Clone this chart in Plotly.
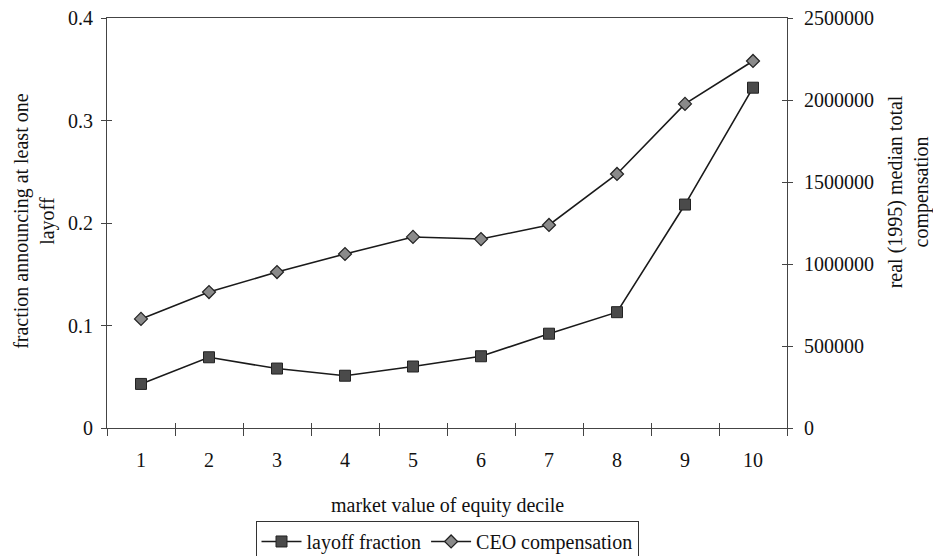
import plotly.graph_objects as go

deciles = [1, 2, 3, 4, 5, 6, 7, 8, 9, 10]
layoff_fraction = [0.043, 0.069, 0.058, 0.051, 0.060, 0.070, 0.092, 0.113, 0.218, 0.332]
ceo_compensation = [665000, 829000, 951000, 1061000, 1165000, 1152000, 1238000, 1549000, 1976000, 2238000]
boundaries = [0.5, 1.5, 2.5, 3.5, 4.5, 5.5, 6.5, 7.5, 8.5, 9.5, 10.5]
left_ticks = [0, 0.1, 0.2, 0.3, 0.4]
left_tick_labels = ["0", "0.1", "0.2", "0.3", "0.4"]
right_ticks = [0, 500000, 1000000, 1500000, 2000000, 2500000]

FONT = "Liberation Serif"
AX = "#444444"

fig = go.Figure()
fig.add_trace(go.Scatter(
    x=deciles, y=layoff_fraction, name="layoff fraction", mode="lines+markers",
    line=dict(color="#1a1a1a", width=1.6),
    marker=dict(symbol="square", size=11, color="#4a4a4a", line=dict(color="#222222", width=1)),
    xaxis="x", yaxis="y"))
fig.add_trace(go.Scatter(
    x=deciles, y=ceo_compensation, name="CEO compensation", mode="lines+markers",
    line=dict(color="#1a1a1a", width=1.6),
    marker=dict(symbol="diamond", size=10, color="#8a8a8a", line=dict(color="#222222", width=1.2)),
    xaxis="x", yaxis="y2"))
# invisible helpers so overlay tick axes are drawn
fig.add_trace(go.Scatter(x=[1], y=[0], mode="markers", marker=dict(opacity=0), showlegend=False,
                         hoverinfo="skip", xaxis="x2", yaxis="y3"))
fig.add_trace(go.Scatter(x=[1], y=[0], mode="markers", marker=dict(opacity=0), showlegend=False,
                         hoverinfo="skip", xaxis="x3", yaxis="y"))
fig.add_trace(go.Scatter(x=[1], y=[0], mode="markers", marker=dict(opacity=0), showlegend=False,
                         hoverinfo="skip", xaxis="x", yaxis="y4"))

common_x = dict(range=[0.5, 10.5], showgrid=False, zeroline=False, automargin=False)
common_y = dict(range=[0, 0.4], showgrid=False, zeroline=False, automargin=False)

fig.update_layout(
    width=933, height=556,
    paper_bgcolor="white", plot_bgcolor="white",
    margin=dict(l=107, r=146, t=18, b=128, autoexpand=False),
    font=dict(family=FONT, size=20, color="#111111"),
    showlegend=True,
    legend=dict(orientation="h", x=0.5, xanchor="center", yref="container", y=0.063, yanchor="top",
                bordercolor="#333333", borderwidth=1, font=dict(size=20, family=FONT),
                itemwidth=40, tracegroupgap=0),
    xaxis=dict(**common_x, tickmode="array", tickvals=deciles, ticktext=[str(d) for d in deciles],
               ticks="", showline=True, linecolor=AX, linewidth=1, mirror=True,
               ticklabelstandoff=14, anchor="y"),
    xaxis2=dict(**common_x, overlaying="x", anchor="y", tickmode="array", tickvals=boundaries,
                ticks="outside", ticklen=7, tickcolor=AX, showticklabels=False, showline=False),
    xaxis3=dict(**common_x, overlaying="x", anchor="y", tickmode="array", tickvals=boundaries,
                ticks="inside", ticklen=5, tickcolor=AX, showticklabels=False, showline=False),
    yaxis=dict(**common_y, tickmode="array", tickvals=left_ticks, ticktext=left_tick_labels,
               ticks="outside", ticklen=5, tickcolor=AX, showline=True, linecolor=AX, linewidth=1,
               ticklabelstandoff=4, anchor="x"),
    yaxis2=dict(range=[0, 2500000], tickmode="array", tickvals=right_ticks, tickformat="d",
                showgrid=False, zeroline=False, automargin=False, overlaying="y", side="right",
                anchor="x", ticks="outside", ticklen=5, tickcolor=AX, showline=True, linecolor=AX,
                linewidth=1, ticklabelstandoff=7),
    yaxis3=dict(**common_y, overlaying="y", side="left", anchor="x2", tickmode="array",
                tickvals=left_ticks, ticks="inside", ticklen=5, tickcolor=AX,
                showticklabels=False, showline=False),
    yaxis4=dict(range=[0, 2500000], tickmode="array", tickvals=right_ticks,
                overlaying="y", side="right", anchor="x", ticks="inside", ticklen=5,
                tickcolor=AX, showticklabels=False, showline=False, showgrid=False,
                zeroline=False, automargin=False),
)

fig.add_annotation(text="fraction announcing at least one<br>layoff", textangle=-90,
                   xref="paper", yref="paper", x=-0.106, y=0.505, xanchor="center", yanchor="middle",
                   showarrow=False, font=dict(size=20, family=FONT))
fig.add_annotation(text="real (1995) median total<br>compensation", textangle=-90,
                   xref="paper", yref="paper", x=1.178, y=0.575, xanchor="center", yanchor="middle",
                   showarrow=False, font=dict(size=20, family=FONT))
fig.add_annotation(text="market value of equity decile",
                   xref="paper", yref="paper", x=0.5, y=-0.19, xanchor="center", yanchor="middle",
                   showarrow=False, font=dict(size=20, family=FONT))

fig.write_html("out.html", config={"displayModeBar": False},
               post_script="document.body.style.margin='0';document.body.style.overflow='hidden';")
